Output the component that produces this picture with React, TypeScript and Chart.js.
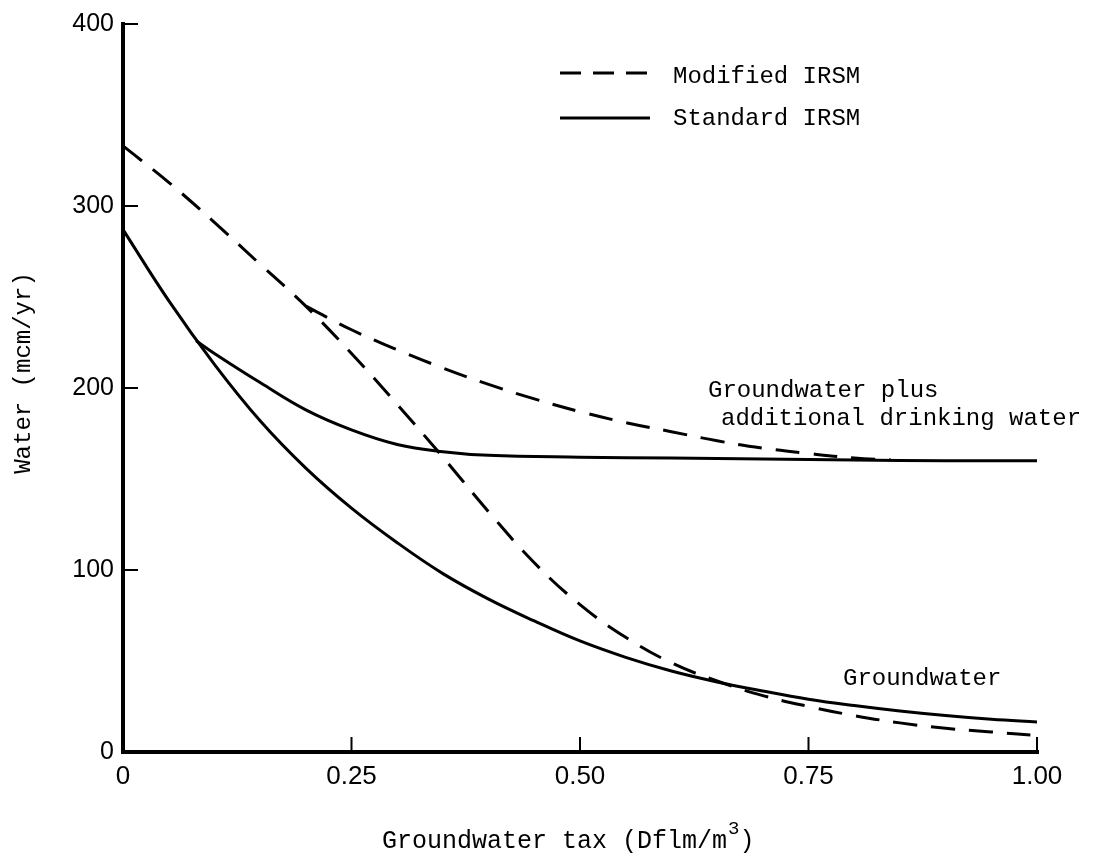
import React, { useEffect, useRef } from "react";
import { Chart, registerables } from "chart.js";

Chart.register(...registerables);

// ---- data ----
const xTickValues = [0, 0.25, 0.5, 0.75, 1.0];
const xTickLabels = ["0", "0.25", "0.50", "0.75", "1.00"];
const yTickValues = [0, 100, 200, 300, 400];
const yTickLabels = ["0", "100", "200", "300", "400"];

const modGwTax = [0, 0.05, 0.1, 0.15, 0.2, 0.25, 0.3, 0.35, 0.4, 0.45, 0.5, 0.55, 0.6, 0.65, 0.7, 0.75, 0.8, 0.85, 0.9, 0.95, 1.0];
const modGwWater = [333, 313, 291, 268, 245, 219, 191, 162, 132, 104, 81, 63, 49, 39, 31, 25, 20, 16, 13, 11, 9];

const modPlusTax = [0.2, 0.25, 0.3, 0.35, 0.4, 0.45, 0.5, 0.55, 0.6, 0.65, 0.7, 0.75, 0.8, 0.84];
const modPlusWater = [245, 232, 221, 211, 202, 194, 187, 181, 176, 171, 167, 164, 161.5, 160.5];

const stdGwTax = [0, 0.05, 0.1, 0.15, 0.2, 0.25, 0.3, 0.35, 0.4, 0.45, 0.5, 0.55, 0.6, 0.65, 0.7, 0.75, 0.8, 0.85, 0.9, 0.95, 1.0];
const stdGwWater = [287, 248, 213, 182, 156, 134, 115, 98, 84, 72, 61, 52, 44.5, 38.5, 33.5, 29, 25.5, 22.5, 20, 18, 16.5];

const stdPlusTax = [0.08, 0.1, 0.15, 0.2, 0.25, 0.3, 0.35, 0.4, 0.5, 0.6, 0.7, 0.8, 0.9, 1.0];
const stdPlusWater = [226, 219, 203, 188, 177, 169, 165, 163, 162, 161.5, 161, 160.5, 160, 160];

const pts = (xs: number[], ys: number[]) => xs.map((x, i) => ({ x, y: ys[i] }));

const MONO = '"Liberation Mono", "DejaVu Sans Mono", monospace';
const SANS = '"Liberation Sans", Arial, sans-serif';

const decor = {
  id: "decor",
  afterDraw(chart: any) {
    const ctx = chart.ctx as CanvasRenderingContext2D;
    const xs = chart.scales.x;
    const ys = chart.scales.y;
    const x0 = xs.getPixelForValue(0);
    const x1 = xs.getPixelForValue(1);
    const y0 = ys.getPixelForValue(0);
    const yTop = ys.getPixelForValue(400);
    const line = (a: number, b: number, c: number, d: number) => {
      ctx.beginPath();
      ctx.moveTo(a, b);
      ctx.lineTo(c, d);
      ctx.stroke();
    };
    ctx.save();
    ctx.strokeStyle = "#000";
    ctx.lineWidth = 4;
    ctx.lineCap = "square";
    ctx.beginPath();
    ctx.moveTo(x0, yTop);
    ctx.lineTo(x0, y0);
    ctx.lineTo(x1, y0);
    ctx.stroke();
    ctx.lineWidth = 2;
    ctx.lineCap = "butt";
    yTickValues.slice(1).forEach((v) => {
      const y = ys.getPixelForValue(v);
      line(x0, y, x0 + 15, y);
    });
    xTickValues.slice(1).forEach((v) => {
      const x = xs.getPixelForValue(v);
      line(x, y0, x, y0 - 15);
    });

    // legend
    ctx.lineWidth = 3;
    ctx.setLineDash([21, 12]);
    line(560, 73, 648, 73);
    ctx.setLineDash([]);
    line(560, 118, 650, 118);

    ctx.fillStyle = "#000";
    ctx.textBaseline = "alphabetic";
    ctx.textAlign = "left";
    ctx.font = `24px ${MONO}`;
    ctx.fillText("Modified IRSM", 673, 83);
    ctx.fillText("Standard IRSM", 673, 125);
    ctx.fillText("Groundwater plus", 708, 397);
    ctx.fillText("additional drinking water", 721, 425);
    ctx.fillText("Groundwater", 843, 685);

    // x title with superscript
    ctx.font = `25px ${MONO}`;
    const t = "Groundwater tax (Dflm/m";
    ctx.fillText(t, 382, 848);
    const w = ctx.measureText(t).width;
    ctx.font = `19px ${MONO}`;
    ctx.fillText("3", 382 + w + 1, 834);
    const w3 = ctx.measureText("3").width;
    ctx.font = `25px ${MONO}`;
    ctx.fillText(")", 382 + w + w3 + 1, 848);

    // y title
    ctx.translate(24, 373);
    ctx.rotate(-Math.PI / 2);
    ctx.textAlign = "center";
    ctx.textBaseline = "middle";
    ctx.font = `24px ${MONO}`;
    ctx.fillText("Water (mcm/yr)", 0, 0);
    ctx.restore();
  },
};

export default function App() {
  const ref = useRef<HTMLCanvasElement | null>(null);
  useEffect(() => {
    if (!ref.current) return;
    const common = {
      borderColor: "#000",
      borderWidth: 3,
      pointRadius: 0,
      tension: 0.4,
      fill: false,
    };
    const chart = new Chart(ref.current, {
      type: "line",
      data: {
        datasets: [
          { ...common, label: "Modified IRSM groundwater", data: pts(modGwTax, modGwWater), borderDash: [24, 14] },
          { ...common, label: "Modified IRSM groundwater plus drinking water", data: pts(modPlusTax, modPlusWater), borderDash: [24, 14] },
          { ...common, label: "Standard IRSM groundwater", data: pts(stdGwTax, stdGwWater) },
          { ...common, label: "Standard IRSM groundwater plus drinking water", data: pts(stdPlusTax, stdPlusWater) },
        ],
      },
      options: {
        responsive: false,
        animation: false,
        layout: { padding: { top: 20, right: 56, left: 0, bottom: 0 } },
        plugins: { legend: { display: false }, tooltip: { enabled: false }, title: { display: false } },
        scales: {
          x: {
            type: "linear",
            min: 0,
            max: 1,
            afterBuildTicks: (s: any) => {
              s.ticks = xTickValues.map((v) => ({ value: v }));
            },
            afterFit: (s: any) => {
              s.height = 109;
            },
            grid: { display: false, drawTicks: false },
            border: { display: false },
            ticks: {
              padding: 9,
              color: "#000",
              maxRotation: 0,
              autoSkip: false,
              font: { family: SANS, size: 26 },
              callback: (v: any) => xTickLabels[xTickValues.indexOf(Number(v))] ?? "",
            },
          },
          y: {
            type: "linear",
            min: 0,
            max: 400,
            afterBuildTicks: (s: any) => {
              s.ticks = yTickValues.map((v) => ({ value: v }));
            },
            afterFit: (s: any) => {
              s.width = 123;
            },
            grid: { display: false, drawTicks: false },
            border: { display: false },
            ticks: {
              padding: 9,
              color: "#000",
              autoSkip: false,
              font: { family: SANS, size: 25 },
              callback: (v: any) => yTickLabels[yTickValues.indexOf(Number(v))] ?? "",
            },
          },
        },
      },
      plugins: [decor],
    });
    return () => chart.destroy();
  }, []);
  return (
    <div style={{ position: "absolute", left: 0, top: 0, width: 1093, height: 861, background: "#fff" }}>
      <canvas ref={ref} width={1093} height={861} style={{ width: 1093, height: 861, display: "block" }} />
    </div>
  );
}
